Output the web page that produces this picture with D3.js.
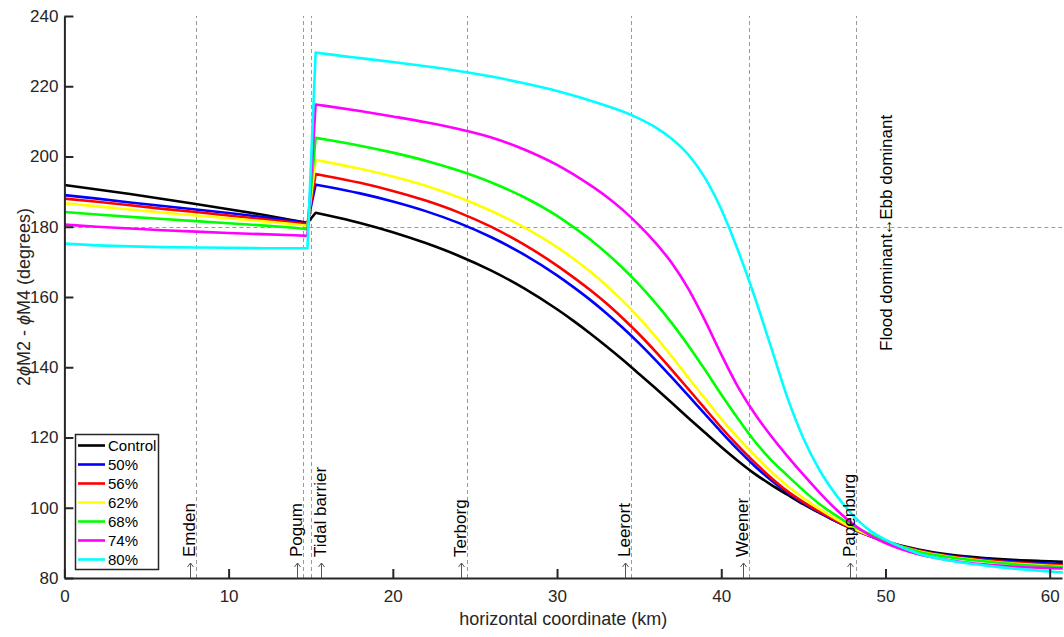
<!DOCTYPE html>
<html>
<head>
<meta charset="utf-8">
<script src="https://cdn.jsdelivr.net/npm/d3@7"></script>
<style>
  html, body { margin: 0; padding: 0; background: #fff; }
  svg { display: block; font-family: "Liberation Sans", Arial, sans-serif; }
</style>
</head>
<body>
<svg id="chart" width="1064" height="637"></svg>
<script>
// Along-channel distance (km): seaward section, barrier, landward section
const km = [0, 2, 4, 6, 8, 10, 12, 14, 14.8,
  15.3, 16, 18, 20, 22, 24, 26, 28, 30, 31, 32, 33, 34, 35, 36, 37, 38, 39, 40,
  41, 42, 43, 44, 45, 46, 47, 48, 49, 50, 52, 54, 56, 58, 60, 60.8];
// index where the landward section starts (just past the barrier)
const barrierIndex = 9;

// 2phiM2 - phiM4 (degrees) for each scenario
const control = [191.9, 190.6, 189.3, 187.9, 186.5, 185.0, 183.5, 181.8, 181.1,
  184.0, 183.3, 181.1, 178.45, 175.35, 171.75, 167.5, 162.45, 156.5, 153.2, 149.7, 146.0, 142.15, 138.1, 134.0, 129.8, 125.55, 121.4, 117.3,
  113.4, 109.8, 106.65, 103.8, 101.0, 98.5, 96.1, 94.0, 92.1, 90.5, 88.1, 86.6, 85.7, 85.1, 84.75, 84.6];
const p50 = [189.0, 188.0, 186.9, 185.9, 184.9, 183.9, 182.8, 181.6, 181.0,
  192.0, 191.4, 189.5, 187.2, 184.45, 181.1, 177.0, 172.05, 166.15, 162.8, 159.25, 155.4, 151.25, 146.8, 142.05, 137.05, 131.9, 126.7, 121.55,
  116.6, 112.05, 108.0, 104.4, 101.3, 98.6, 96.1, 93.9, 92.0, 90.3, 87.9, 86.3, 85.3, 84.6, 84.1, 83.95];
const p56 = [188.0, 187.1, 186.1, 185.1, 184.2, 183.2, 182.2, 181.2, 180.7,
  195.0, 194.4, 192.5, 190.2, 187.45, 184.1, 179.95, 174.9, 168.95, 165.6, 162.05, 158.2, 153.95, 149.4, 144.45, 139.2, 133.75, 128.3, 122.85,
  117.75, 113.05, 108.7, 104.8, 101.6, 98.8, 96.3, 94.0, 92.1, 90.4, 87.8, 86.1, 85.1, 84.3, 83.75, 83.6];
const p62 = [186.7, 185.8, 184.9, 184.0, 183.2, 182.4, 181.6, 180.7, 180.3,
  199.0, 198.4, 196.5, 194.3, 191.65, 188.4, 184.5, 179.85, 174.2, 170.9, 167.3, 163.3, 158.9, 154.05, 148.7, 143.0, 137.0, 131.15, 125.3,
  120.0, 115.1, 110.45, 106.3, 102.75, 99.6, 96.75, 94.2, 92.2, 90.4, 87.6, 85.95, 84.85, 84.05, 83.5, 83.35];
const p68 = [184.2, 183.5, 182.8, 182.2, 181.6, 181.0, 180.4, 179.7, 179.3,
  205.3, 204.75, 203.07, 201.1, 198.8, 196.0, 192.6, 188.4, 183.1, 179.9, 176.45, 172.55, 168.25, 163.5, 158.25, 152.5, 146.15, 139.35, 132.25,
  125.5, 119.15, 113.8, 109.3, 104.95, 101.0, 97.75, 94.9, 92.55, 90.6, 87.5, 85.85, 84.75, 83.85, 83.3, 83.15];
const p74 = [180.6, 180.0, 179.5, 179.0, 178.6, 178.2, 177.9, 177.6, 177.4,
  214.8, 214.35, 212.95, 211.4, 209.75, 207.8, 205.4, 202.0, 197.6, 194.9, 191.9, 188.6, 184.8, 180.4, 175.4, 169.6, 162.3, 153.4, 143.65,
  134.55, 127.05, 120.65, 114.85, 109.4, 104.25, 99.5, 95.45, 92.3, 89.95, 86.75, 85.0, 83.9, 83.2, 82.8, 82.7];
const p80 = [175.2, 174.7, 174.4, 174.2, 174.1, 174.0, 173.9, 173.9, 173.9,
  229.6, 229.15, 228.0, 226.9, 225.7, 224.35, 222.75, 220.85, 218.65, 217.35, 215.95, 214.45, 212.8, 210.8, 208.3, 205.0, 200.5, 194.0, 185.0,
  173.5, 160.5, 146.2, 131.7, 119.8, 110.6, 103.6, 98.0, 93.7, 90.9, 87.0, 84.9, 83.6, 82.6, 81.85, 81.55];

const seriesNames = ["Control", "50%", "56%", "62%", "68%", "74%", "80%"];
const seriesValues = [control, p50, p56, p62, p68, p74, p80];
const seriesColors = ["#000000", "#0000ff", "#ff0000", "#ffff00", "#00ff00", "#ff00ff", "#00ffff"];

// Stations along the river: reference line position and label arrow position (km)
const stationNames = ["Emden", "Pogum", "Tidal barrier", "Terborg", "Leerort", "Weener", "Papenburg"];
const stationLines = [8.0, 14.5, 15.0, 24.5, 34.5, 41.7, 48.2];
const stationArrows = [7.65, 14.15, 15.65, 24.15, 34.15, 41.35, 47.85];

const xTicks = [0, 10, 20, 30, 40, 50, 60];
const yTicks = [80, 100, 120, 140, 160, 180, 200, 220, 240];

const svg = d3.select("#chart");
const axisColor = "#262626";
const font = "'Liberation Sans', Arial, sans-serif";

const x = d3.scaleLinear().domain([0, 60.75]).range([64.4, 1062]);
const y = d3.scaleLinear().domain([80, 240]).range([578, 16]);

// reference lines (dashed)
const grid = svg.append("g").attr("stroke", "#9a9a9a").attr("stroke-width", 1)
  .attr("stroke-dasharray", "4,3").attr("fill", "none");
grid.selectAll("line.v").data(stationLines).join("line")
  .attr("class", "v")
  .attr("x1", d => Math.round(x(d)) + 0.5).attr("x2", d => Math.round(x(d)) + 0.5)
  .attr("y1", y(80)).attr("y2", y(240));
grid.append("line")
  .attr("x1", x(0)).attr("x2", x(60.75))
  .attr("y1", Math.round(y(180)) + 0.5).attr("y2", Math.round(y(180)) + 0.5);

// curves: straight segments through the barrier, smooth landward
const lineLin = d3.line().x(d => x(d[0])).y(d => y(d[1]));
const lineSmooth = d3.line().x(d => x(d[0])).y(d => y(d[1])).curve(d3.curveMonotoneX);

const curves = svg.append("g").attr("fill", "none").attr("stroke-width", 2.6)
  .attr("stroke-linejoin", "round");
seriesValues.forEach((vals, i) => {
  const pts = km.map((k, j) => [k, vals[j]]);
  const a = lineLin(pts.slice(0, barrierIndex + 1));
  const b = lineSmooth(pts.slice(barrierIndex)).replace(/^M/, "L");
  curves.append("path").attr("d", a + b).attr("stroke", seriesColors[i]);
});

// axes
const xAxis = d3.axisBottom(x).tickValues(xTicks).tickSizeInner(-9).tickSizeOuter(0).tickPadding(12);
const yAxis = d3.axisLeft(y).tickValues(yTicks).tickSizeInner(-9).tickSizeOuter(0).tickPadding(6);

const gx = svg.append("g").attr("transform", `translate(0,${y(80)})`).call(xAxis);
const gy = svg.append("g").attr("transform", `translate(${x(0)},0)`).call(yAxis);
[gx, gy].forEach(g => {
  g.select(".domain").attr("stroke", axisColor).attr("stroke-width", 2);
  g.selectAll(".tick line").attr("stroke", axisColor).attr("stroke-width", 2);
  g.selectAll(".tick text").attr("fill", axisColor)
    .style("font-size", "17px").style("font-family", font);
});

// station arrows and labels
const stations = svg.append("g");
stationNames.forEach((name, i) => {
  const ax = Math.round(x(stationArrows[i])) + 0.5;
  stations.append("path")
    .attr("d", `M${ax},${y(80)}V${y(80) - 15}M${ax - 3},${y(80) - 11}L${ax},${y(80) - 15}L${ax + 3},${y(80) - 11}`)
    .attr("fill", "none").attr("stroke", "#555").attr("stroke-width", 1);
  stations.append("text")
    .attr("transform", `translate(${ax + 4.5},${y(80) - 21}) rotate(-90)`)
    .attr("fill", "#000").style("font-size", "17px")
    .text(name);
});

// flood / ebb dominance note
const note = svg.append("g").attr("transform", `translate(${x(50) + 6.5},${y(180)}) rotate(-90)`)
  .style("font-size", "17px").attr("fill", "#000");
note.append("text").attr("x", -7).attr("text-anchor", "end").text("Flood dominant");
note.append("text").attr("x", 0).attr("text-anchor", "middle").text("↔");
note.append("text").attr("x", 7).attr("text-anchor", "start").text("Ebb dominant");

// axis titles
svg.append("text")
  .attr("x", (x(0) + x(60.75)) / 2).attr("y", 625)
  .attr("text-anchor", "middle").attr("fill", axisColor)
  .style("font-size", "18px")
  .text("horizontal coordinate (km)");

const yl = svg.append("text")
  .attr("transform", `translate(30,${(y(80) + y(240)) / 2}) rotate(-90)`)
  .attr("text-anchor", "middle").attr("fill", axisColor)
  .style("font-size", "18px");
yl.append("tspan").text("2");
yl.append("tspan").style("font-style", "italic").text("ϕ");
yl.append("tspan").text("M2 - ");
yl.append("tspan").style("font-style", "italic").text("ϕ");
yl.append("tspan").text("M4 (degrees)");

// legend
const legend = svg.append("g").attr("transform", "translate(75,434)");
legend.append("rect").attr("x", 0.5).attr("y", 0.5).attr("width", 83).attr("height", 135)
  .attr("fill", "#fff").attr("stroke", axisColor).attr("stroke-width", 1.5);
seriesNames.forEach((name, i) => {
  const ry = 11.5 + i * 19;
  legend.append("line").attr("x1", 3).attr("x2", 30).attr("y1", ry).attr("y2", ry)
    .attr("stroke", seriesColors[i]).attr("stroke-width", 2.6);
  legend.append("text").attr("x", 33).attr("y", ry).attr("dy", "0.36em")
    .attr("fill", "#000").style("font-size", "15px").text(name);
});
</script>
</body>
</html>
